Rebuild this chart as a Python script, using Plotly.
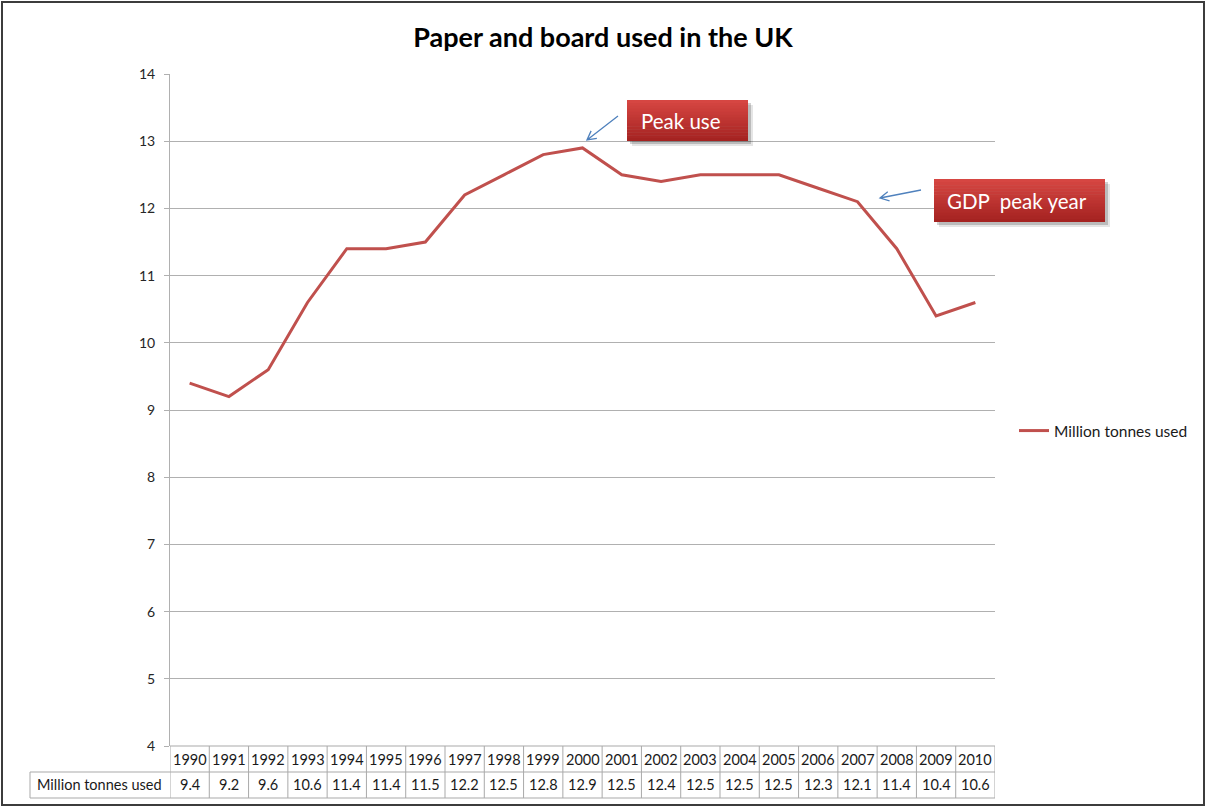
import math
import plotly.graph_objects as go

# ---- data -------------------------------------------------------------
years = list(range(1990, 2011))
tonnes = [9.4, 9.2, 9.6, 10.6, 11.4, 11.4, 11.5, 12.2, 12.5, 12.8, 12.9,
          12.5, 12.4, 12.5, 12.5, 12.5, 12.3, 12.1, 11.4, 10.4, 10.6]
series_name = "Million tonnes used"
y_ticks = [4, 5, 6, 7, 8, 9, 10, 11, 12, 13, 14]
chart_title = "Paper and board used in the UK"
callout_texts = ["Peak use", "GDP\u00a0 peak year"]

# ---- page geometry ----------------------------------------------------
W, H = 1206, 807
ML, MR, MT, MB = 170, 211, 74, 61
PW = W - ML - MR
PH = H - MT - MB

FONT = "Lato"
LINE_RED = "#c0504d"
GRID = "#b0b0b0"
CELL = "#a9a9a9"
TEXT = "#1a1a1a"
ARROW = "#4f81bd"


def px(x):
    """page pixel x -> paper x"""
    return (x - ML) / PW


def py(y):
    """page pixel y -> paper y"""
    return (H - MB - y) / PH


def label(x, y, text, xref="paper", yref="paper", size=14, color=TEXT):
    return dict(x=x, y=y, xref=xref, yref=yref, text=text, showarrow=False,
                xanchor="center", yanchor="middle",
                font=dict(family=FONT, size=size, color=color))


fig = go.Figure()
fig.add_trace(go.Scatter(
    x=years, y=tonnes, mode="lines", name=series_name,
    line=dict(color=LINE_RED, width=3),
))

shapes = []
annotations = []

# ---- data table under the plot ---------------------------------------
row_top, row_mid, row_bot = py(746), py(772), py(798)
shapes.append(dict(type="line", xref="paper", yref="paper", x0=0, x1=1,
                   y0=row_top, y1=row_top, line=dict(color=CELL, width=1)))
for yy in (row_mid, row_bot):
    shapes.append(dict(type="line", xref="paper", yref="paper", x0=px(30), x1=1,
                       y0=yy, y1=yy, line=dict(color=CELL, width=1)))
shapes.append(dict(type="line", xref="paper", yref="paper", x0=px(30), x1=px(30),
                   y0=row_mid, y1=row_bot, line=dict(color=CELL, width=1)))
for yr in years + [years[-1] + 1]:
    shapes.append(dict(type="line", xref="x", yref="paper", x0=yr - 0.5, x1=yr - 0.5,
                       y0=row_top, y1=row_bot, line=dict(color=CELL, width=1)))

for yr, v in zip(years, tonnes):
    annotations.append(label(yr, (row_top + row_mid) / 2, str(yr), xref="x", size=14.5))
    annotations.append(label(yr, (row_mid + row_bot) / 2, f"{v:g}", xref="x", size=14.5))
annotations.append(label(px(99), (row_mid + row_bot) / 2, series_name, size=14.5))


# ---- red call-out boxes ------------------------------------------------
def callout(x0, y0, x1, y1, text, text_x):
    # soft drop shadow
    for off, alpha in ((5, 0.10), (3, 0.18)):
        shapes.append(dict(type="rect", xref="paper", yref="paper",
                           x0=px(x0 + off), x1=px(x1 + off), y0=py(y0 + off), y1=py(y1 + off),
                           line=dict(width=0), fillcolor=f"rgba(0,0,0,{alpha})"))
    # vertical gradient, light red at the top to dark red at the bottom
    n = 14
    top, bot = (214, 70, 66), (165, 35, 33)
    for i in range(n):
        t = i / (n - 1)
        c = tuple(round(a + (b - a) * t) for a, b in zip(top, bot))
        ya = y0 + (y1 - y0) * i / n
        yb = y0 + (y1 - y0) * (i + 1) / n
        shapes.append(dict(type="rect", xref="paper", yref="paper",
                           x0=px(x0), x1=px(x1), y0=py(ya), y1=py(min(yb + 0.5, y1)),
                           line=dict(width=0), fillcolor=f"rgb{c}"))
    annotations.append(label(px(text_x), py((y0 + y1) / 2), text,
                             size=20.5, color="white"))


callout(627, 100, 748, 141, callout_texts[0], 681)
callout(934, 179, 1105, 222, callout_texts[1], 1017)


# thin blue pointer arrows with an open chevron head
def pointer(tx, ty, hx, hy, wing=10, spread=math.radians(28)):
    ang = math.atan2(ty - hy, tx - hx)
    pts = []
    for s in (-1, 1):
        a = ang + s * spread
        pts.append((hx + wing * math.cos(a), hy + wing * math.sin(a)))
    path = (f"M {px(tx)},{py(ty)} L {px(hx)},{py(hy)} "
            f"M {px(pts[0][0])},{py(pts[0][1])} L {px(hx)},{py(hy)} "
            f"L {px(pts[1][0])},{py(pts[1][1])}")
    shapes.append(dict(type="path", xref="paper", yref="paper", path=path,
                       line=dict(color=ARROW, width=1.3)))


pointer(618, 116, 587, 140)
pointer(921, 190, 880, 198)

# outer frame
shapes.append(dict(type="rect", xref="paper", yref="paper",
                   x0=px(2), x1=px(1204), y0=py(2), y1=py(805),
                   line=dict(color="#3c3c3c", width=2)))

fig.update_layout(
    width=W, height=H,
    margin=dict(l=ML, r=MR, t=MT, b=MB, pad=0),
    paper_bgcolor="white", plot_bgcolor="white",
    title=dict(text=f"<b>{chart_title}</b>", x=0.5, xref="container", xanchor="center",
               y=1 - 38 / H, yref="container", yanchor="middle",
               font=dict(family=FONT, size=27, color="#000")),
    xaxis=dict(range=[years[0] - 0.5, years[-1] + 0.5], showticklabels=False,
               showgrid=False, zeroline=False, showline=False, ticks=""),
    yaxis=dict(range=[y_ticks[0], y_ticks[-1]], tickvals=y_ticks,
               showgrid=True, gridcolor=GRID, gridwidth=1, zeroline=False,
               showline=True, linecolor=GRID, linewidth=1,
               ticks="outside", ticklen=5, tickcolor=GRID,
               tickfont=dict(family=FONT, size=14, color="#262626"),
               ticklabelstandoff=6),
    showlegend=True,
    legend=dict(x=px(1014), y=py(431), xanchor="left", yanchor="middle",
                font=dict(family=FONT, size=15.5, color=TEXT),
                bgcolor="rgba(0,0,0,0)", borderwidth=0),
    shapes=shapes,
    annotations=annotations,
)

fig.write_html("out.html")
